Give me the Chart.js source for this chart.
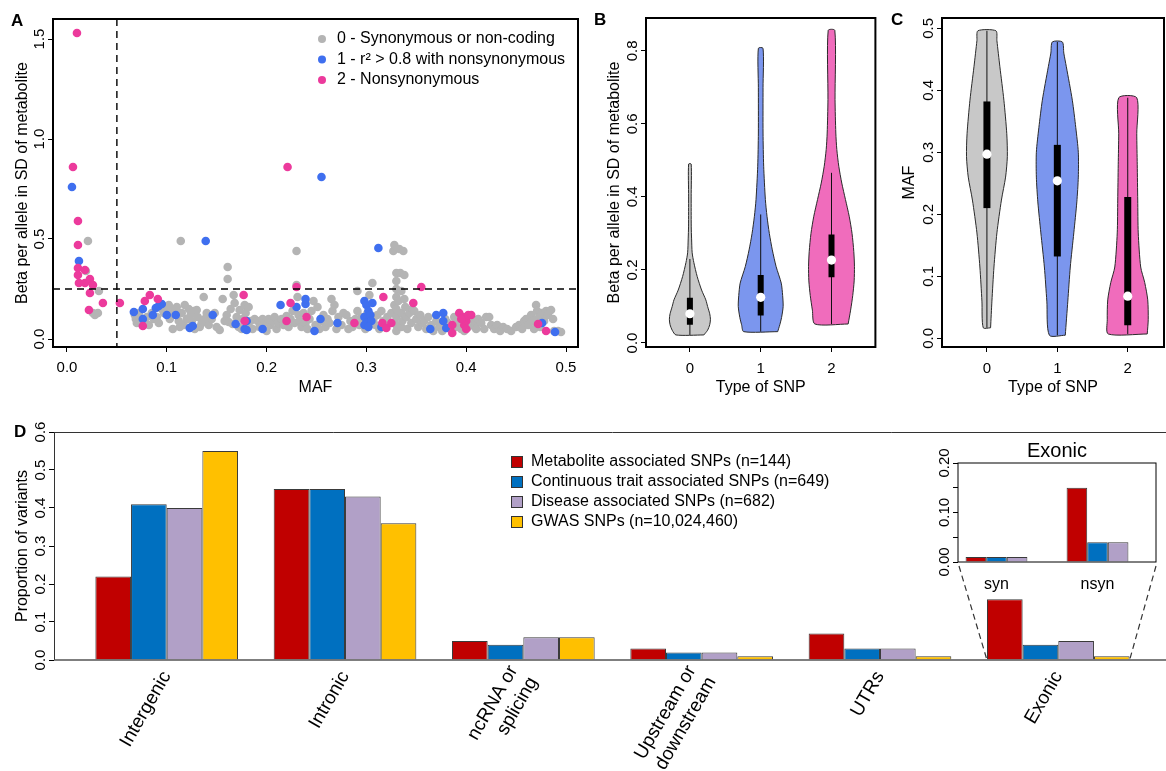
<!DOCTYPE html>
<html lang="en">
<head>
<meta charset="utf-8">
<title>Metabolite associated SNPs</title>
<script src="https://cdn.jsdelivr.net/npm/chart.js@4.4.1/dist/chart.umd.min.js"></script>
<style>
  html, body { margin: 0; padding: 0; background: #fff; }
  body { width: 1166px; height: 771px; overflow: hidden; position: relative; }
  canvas { position: absolute; }
</style>
</head>
<body>
<canvas id="chartA" width="590" height="400" style="left:0;top:0"></canvas>
<canvas id="chartB" width="290" height="400" style="left:590px;top:0"></canvas>
<canvas id="chartC" width="296" height="400" style="left:880px;top:0"></canvas>
<canvas id="chartD" width="1180" height="361" style="left:0;top:410px"></canvas>
<canvas id="chartE" width="266" height="250" style="left:900px;top:420px"></canvas>
<script>
// ---- Panel A: effect size vs MAF, [MAF, beta] per SNP ----
const synonymous = [
  [0.021,0.49],[0.019,0.34],[0.032,0.24],[0.026,0.13],[0.031,0.13],[0.028,0.12],
  [0.068,0.12],[0.069,0.1],[0.07,0.08],[0.072,0.13],[0.074,0.09],[0.078,0.075],[0.08,0.11],[0.082,0.07],
  [0.085,0.13],[0.087,0.1],[0.09,0.11],[0.092,0.08],[0.095,0.15],[0.097,0.13],[0.1,0.16],[0.102,0.17],
  [0.103,0.1],[0.105,0.13],[0.106,0.05],[0.108,0.15],[0.11,0.16],[0.112,0.09],[0.113,0.06],[0.114,0.49],
  [0.115,0.13],[0.117,0.07],[0.118,0.17],[0.12,0.1],[0.122,0.15],[0.124,0.12],[0.125,0.09],[0.127,0.14],
  [0.128,0.05],[0.13,0.145],[0.131,0.11],[0.133,0.06],[0.135,0.08],[0.137,0.21],[0.138,0.1],[0.14,0.13],
  [0.142,0.07],[0.145,0.1],[0.148,0.13],[0.15,0.06],[0.153,0.045],[0.156,0.2],[0.158,0.09],[0.16,0.12],
  [0.161,0.36],[0.161,0.3],[0.162,0.085],[0.164,0.15],[0.166,0.075],[0.167,0.22],[0.168,0.18],[0.17,0.11],
  [0.172,0.06],[0.173,0.145],[0.175,0.05],[0.176,0.1],[0.178,0.17],[0.179,0.13],[0.18,0.07],[0.182,0.16],
  [0.184,0.09],[0.186,0.05],[0.188,0.1],[0.191,0.09],[0.193,0.06],[0.196,0.1],[0.198,0.08],[0.2,0.04],
  [0.202,0.1],[0.204,0.07],[0.206,0.09],[0.208,0.11],[0.21,0.05],[0.212,0.08],[0.215,0.1],[0.217,0.07],
  [0.22,0.115],[0.222,0.06],[0.224,0.1],[0.226,0.14],[0.228,0.08],[0.23,0.44],[0.23,0.27],[0.231,0.21],
  [0.232,0.12],[0.233,0.09],[0.235,0.06],[0.237,0.13],[0.239,0.08],[0.241,0.05],[0.243,0.1],[0.245,0.14],
  [0.247,0.19],[0.249,0.07],[0.251,0.16],[0.253,0.05],[0.255,0.09],[0.257,0.12],[0.259,0.06],[0.261,0.1],
  [0.263,0.08],[0.265,0.2],[0.266,0.14],[0.268,0.17],[0.27,0.05],[0.272,0.11],[0.275,0.07],[0.277,0.13],
  [0.28,0.12],[0.282,0.05],[0.284,0.09],[0.286,0.06],[0.289,0.1],[0.291,0.24],[0.291,0.14],[0.293,0.07],
  [0.295,0.11],[0.297,0.09],[0.299,0.05],[0.301,0.13],[0.303,0.22],[0.306,0.28],[0.307,0.1],[0.309,0.07],
  [0.311,0.12],[0.313,0.05],[0.315,0.14],[0.317,0.09],[0.319,0.06],[0.321,0.11],[0.323,0.08],[0.325,0.13],
  [0.327,0.44],[0.328,0.47],[0.328,0.17],[0.33,0.33],[0.33,0.29],[0.33,0.25],[0.33,0.21],[0.33,0.15],
  [0.33,0.11],[0.33,0.07],[0.33,0.04],[0.332,0.19],[0.333,0.45],[0.334,0.33],[0.335,0.24],[0.335,0.13],
  [0.335,0.06],[0.336,0.09],[0.337,0.44],[0.338,0.32],[0.338,0.2],[0.339,0.16],[0.34,0.11],[0.341,0.05],
  [0.343,0.13],[0.345,0.08],[0.346,0.15],[0.348,0.14],[0.35,0.1],[0.352,0.06],[0.354,0.12],[0.356,0.08],
  [0.358,0.09],[0.36,0.05],[0.362,0.11],[0.365,0.07],[0.367,0.04],[0.37,0.09],[0.373,0.06],[0.376,0.04],
  [0.379,0.1],[0.382,0.08],[0.384,0.05],[0.388,0.11],[0.39,0.06],[0.392,0.09],[0.395,0.05],[0.398,0.04],
  [0.4,0.08],[0.402,0.06],[0.405,0.1],[0.408,0.07],[0.41,0.05],[0.412,0.1],[0.415,0.08],[0.418,0.05],
  [0.42,0.11],[0.423,0.11],[0.425,0.07],[0.428,0.05],[0.431,0.07],[0.434,0.04],[0.437,0.06],[0.441,0.05],
  [0.445,0.04],[0.45,0.06],[0.453,0.07],[0.456,0.05],[0.458,0.09],[0.46,0.1],[0.462,0.07],[0.465,0.12],
  [0.467,0.09],[0.468,0.05],[0.47,0.17],[0.471,0.14],[0.473,0.11],[0.474,0.06],[0.476,0.13],[0.478,0.09],
  [0.48,0.14],[0.482,0.12],[0.485,0.145],[0.487,0.1],[0.488,0.04],[0.492,0.04],[0.495,0.035]
];
const ldProxy = [
  [0.005,0.76],[0.012,0.39],[0.067,0.135],[0.076,0.15],[0.076,0.1],[0.086,0.12],[0.089,0.155],[0.092,0.165],
  [0.095,0.175],[0.1,0.12],[0.109,0.12],[0.123,0.055],[0.126,0.065],[0.139,0.49],[0.146,0.12],[0.169,0.075],
  [0.178,0.05],[0.18,0.09],[0.18,0.045],[0.196,0.05],[0.214,0.17],[0.23,0.16],[0.239,0.175],[0.239,0.2],
  [0.248,0.04],[0.254,0.1],[0.255,0.81],[0.271,0.08],[0.298,0.19],[0.3,0.17],[0.302,0.14],[0.298,0.11],
  [0.304,0.12],[0.3,0.08],[0.305,0.09],[0.298,0.07],[0.302,0.06],[0.306,0.18],[0.312,0.455],[0.315,0.06],
  [0.364,0.05],[0.37,0.12],[0.377,0.13],[0.377,0.09],[0.38,0.055],[0.476,0.08],[0.489,0.035]
];
const nonsynonymous = [
  [0.01,1.53],[0.006,0.86],[0.011,0.59],[0.011,0.47],[0.011,0.355],[0.018,0.345],[0.011,0.32],[0.012,0.28],
  [0.018,0.28],[0.023,0.3],[0.026,0.27],[0.023,0.23],[0.036,0.18],[0.022,0.145],[0.053,0.18],[0.078,0.19],
  [0.083,0.22],[0.091,0.2],[0.076,0.065],[0.177,0.22],[0.178,0.09],[0.221,0.86],[0.23,0.26],[0.224,0.18],
  [0.22,0.09],[0.24,0.11],[0.288,0.08],[0.317,0.21],[0.316,0.08],[0.32,0.055],[0.325,0.08],[0.347,0.18],
  [0.355,0.26],[0.386,0.07],[0.386,0.03],[0.393,0.13],[0.397,0.11],[0.4,0.09],[0.402,0.12],[0.405,0.12],
  [0.398,0.07],[0.4,0.05],[0.395,0.1],[0.472,0.075],[0.48,0.04]
];
const snpClassLabels = ['0 - Synonymous or non-coding', '1 - r\u00b2 > 0.8 with nonsynonymous', '2 - Nonsynonymous'];
const mafCutoff = 0.05;
const betaCutoff = 0.25;
const mafTicks = [0, 0.1, 0.2, 0.3, 0.4, 0.5];
const betaTicks = [0, 0.5, 1.0, 1.5];

// ---- Panels B and C: violins per SNP type, [value, half width] ----
const snpTypes = ['0', '1', '2'];
const betaViolin0 = [[0.022,0.197],[0.035,0.25],[0.05,0.28],[0.065,0.29],[0.08,0.28],[0.1,0.25],[0.118,0.225],[0.145,0.165],[0.182,0.103],[0.22,0.056],[0.247,0.032],[0.285,0.024],[0.32,0.019],[0.4,0.018],[0.49,0.018]];
const betaViolin1 = [[0.031,0.24],[0.05,0.27],[0.07,0.295],[0.1,0.317],[0.13,0.31],[0.164,0.29],[0.209,0.218],[0.255,0.164],[0.3,0.122],[0.347,0.089],[0.393,0.066],[0.484,0.042],[0.575,0.033],[0.7,0.033],[0.807,0.033]];
const betaViolin2 = [[0.052,0.235],[0.09,0.27],[0.13,0.3],[0.17,0.32],[0.21,0.324],[0.25,0.315],[0.3,0.29],[0.347,0.25],[0.393,0.197],[0.438,0.145],[0.484,0.103],[0.53,0.075],[0.575,0.061],[0.667,0.05],[0.856,0.047]];
const betaQ1 = [0.05, 0.075, 0.18];
const betaMedian = [0.08, 0.125, 0.227];
const betaQ3 = [0.124, 0.186, 0.297];
const betaLow = [0.022, 0.031, 0.052];
const betaHigh = [0.23, 0.352, 0.466];
const betaViolinTicks = [0, 0.2, 0.4, 0.6, 0.8];

const mafViolin0 = [[0.017,0.052],[0.06,0.071],[0.115,0.1],[0.17,0.142],[0.223,0.206],[0.26,0.265],[0.293,0.29],[0.33,0.282],[0.384,0.241],[0.438,0.184],[0.48,0.142],[0.496,0.128]];
const mafViolin1 = [[0.005,0.113],[0.06,0.149],[0.115,0.184],[0.17,0.234],[0.22,0.277],[0.26,0.298],[0.3,0.298],[0.34,0.262],[0.384,0.213],[0.438,0.128],[0.46,0.092],[0.478,0.071]];
const mafViolin2 = [[0.007,0.277],[0.03,0.291],[0.062,0.284],[0.09,0.241],[0.115,0.184],[0.17,0.149],[0.223,0.142],[0.28,0.135],[0.33,0.128],[0.388,0.128]];
const mafQ1 = [0.21, 0.132, 0.021];
const mafMedian = [0.297, 0.254, 0.068];
const mafQ3 = [0.382, 0.312, 0.228];
const mafLow = [0.017, 0.005, 0.007];
const mafHigh = [0.496, 0.478, 0.388];
const mafViolinTicks = [0, 0.1, 0.2, 0.3, 0.4, 0.5];

// ---- Panel D: proportion of variants by region ----
const regionLabels = ['Intergenic', 'Intronic', ['ncRNA or', 'splicing'], ['Upstream or', 'downstream'], 'UTRs', 'Exonic'];
const metaboliteSNPs = [0.22, 0.45, 0.05, 0.03, 0.07, 0.16];
const continuousSNPs = [0.41, 0.45, 0.04, 0.02, 0.03, 0.04];
const diseaseSNPs = [0.40, 0.43, 0.06, 0.02, 0.03, 0.05];
const gwasSNPs = [0.55, 0.36, 0.06, 0.01, 0.01, 0.01];
const seriesLabels = ['Metabolite associated SNPs (n=144)', 'Continuous trait associated SNPs (n=649)', 'Disease associated SNPs (n=682)', 'GWAS SNPs (n=10,024,460)'];
const proportionTicks = [0, 0.1, 0.2, 0.3, 0.4, 0.5, 0.6];

// inset: exonic split
const exonicLabels = ['syn', 'nsyn'];
const exonicMetabolite = [0.01, 0.15];
const exonicContinuous = [0.01, 0.04];
const exonicDisease = [0.01, 0.04];
const exonicTicks = [0, 0.05, 0.10, 0.15, 0.20];
const exonicTickLabels = [0, 0.10, 0.20];

const FONT = '"Liberation Sans", Arial, Helvetica, sans-serif';
const GRAY = '#b4b4b4', BLUE = '#3f6fef', PINK = '#ec3a9c';
const VIOLIN_COLORS = ['#c8c8c8', '#7b96ee', '#f06cbc'];
const BAR_COLORS = ['#c00000', '#0070c0', '#b1a0c7', '#ffc000'];

Chart.defaults.font.family = FONT;
Chart.defaults.font.size = 15;
Chart.defaults.color = '#000';
Chart.defaults.animation = false;
Chart.defaults.responsive = false;
Chart.defaults.plugins.legend.display = false;
Chart.defaults.plugins.tooltip.enabled = false;

const tickGrid = { drawOnChartArea: false, drawTicks: true, tickLength: 5, color: '#000', lineWidth: 1 };
const setTicks = values => scale => { scale.ticks = values.map(v => ({ value: v })); };

// R-like decorations: frame, rotated y tick labels, axis titles, panel letter
const rStyle = {
  id: 'rStyle',
  afterDraw(chart, args, o) {
    const { ctx, chartArea: a } = chart;
    const y = chart.scales.y;
    ctx.save();
    ctx.fillStyle = '#000';
    if (o.frame) {
      ctx.lineWidth = o.frame;
      ctx.strokeStyle = '#000';
      ctx.strokeRect(a.left, a.top, a.right - a.left, a.bottom - a.top);
    }
    if (o.yLabels) {
      ctx.font = `${o.tickSize || 15}px ${FONT}`;
      ctx.textAlign = 'center';
      ctx.textBaseline = 'bottom';
      for (const v of o.yLabels) {
        ctx.save();
        ctx.translate(a.left - 6, y.getPixelForValue(v));
        ctx.rotate(-Math.PI / 2);
        ctx.fillText(v.toFixed(o.yDigits || 1), 0, 0);
        ctx.restore();
      }
    }
    ctx.font = `16px ${FONT}`;
    ctx.textAlign = 'center';
    ctx.textBaseline = 'middle';
    if (o.yTitle) {
      ctx.save();
      ctx.translate(a.left - o.yTitleGap, (a.top + a.bottom) / 2);
      ctx.rotate(-Math.PI / 2);
      ctx.fillText(o.yTitle, 0, 0);
      ctx.restore();
    }
    if (o.xTitle) {
      ctx.fillText(o.xTitle, (a.left + a.right) / 2, a.bottom + 41);
    }
    if (o.letter) {
      ctx.font = `bold 17px ${FONT}`;
      ctx.textAlign = 'left';
      ctx.fillText(o.letter, o.letterX, o.letterY);
    }
    ctx.restore();
  }
};
Chart.register(rStyle);

// ---- A ----
const toXY = pairs => pairs.map(([x, y]) => ({ x, y }));

const panelAExtras = {
  id: 'panelAExtras',
  afterDatasetsDraw(chart) {
    const { ctx, chartArea: a, scales: { x, y } } = chart;
    ctx.save();
    ctx.strokeStyle = '#000';
    ctx.lineWidth = 1.4;
    ctx.setLineDash([7, 5]);
    ctx.beginPath();
    const px = x.getPixelForValue(mafCutoff);
    const py = y.getPixelForValue(betaCutoff);
    ctx.moveTo(px, a.top); ctx.lineTo(px, a.bottom);
    ctx.moveTo(a.left, py); ctx.lineTo(a.right, py);
    ctx.stroke();
    ctx.restore();
  },
  afterDraw(chart) {
    const { ctx } = chart;
    ctx.save();
    ctx.font = `16px ${FONT}`;
    ctx.textBaseline = 'middle';
    ctx.textAlign = 'left';
    chart.data.datasets.forEach((ds, i) => {
      const yy = 39 + i * 20.5;
      ctx.fillStyle = ds.backgroundColor;
      ctx.beginPath();
      ctx.arc(322, yy, 4, 0, Math.PI * 2);
      ctx.fill();
      ctx.fillStyle = '#000';
      ctx.fillText(ds.label, 337, yy);
    });
    ctx.restore();
  }
};

new Chart(document.getElementById('chartA'), {
  type: 'scatter',
  data: {
    datasets: [
      { label: snpClassLabels[0], data: toXY(synonymous), backgroundColor: GRAY, order: 3 },
      { label: snpClassLabels[1], data: toXY(ldProxy), backgroundColor: BLUE, order: 2 },
      { label: snpClassLabels[2], data: toXY(nonsynonymous), backgroundColor: PINK, order: 1 }
    ]
  },
  options: {
    layout: { padding: { top: 19, right: 12, left: 0, bottom: 0 } },
    elements: { point: { radius: 4.3, borderWidth: 0, hoverRadius: 4.3 } },
    scales: {
      x: {
        type: 'linear', min: -0.014, max: 0.512,
        afterBuildTicks: setTicks(mafTicks),
        afterFit: s => { s.height = 53; },
        ticks: { padding: 7, callback: v => v.toFixed(1) },
        grid: tickGrid, border: { display: false }
      },
      y: {
        min: -0.04, max: 1.6,
        afterBuildTicks: setTicks(betaTicks),
        afterFit: s => { s.width = 53; },
        ticks: { display: false },
        grid: tickGrid, border: { display: false }
      }
    },
    plugins: {
      rStyle: { frame: 2, yLabels: betaTicks, yTitle: 'Beta per allele in SD of metabolite', yTitleGap: 30, xTitle: 'MAF', letter: 'A', letterX: 11, letterY: 21 }
    }
  },
  plugins: [panelAExtras]
});

// ---- B and C: violins drawn as closed line shapes ----
function violinOutline(center, profile) {
  const right = profile.map(([v, w]) => ({ x: center + w, y: v }));
  const left = profile.slice().reverse().map(([v, w]) => ({ x: center - w, y: v }));
  return [...right, ...left, right[0]];
}

function violinDatasets(profiles, q1, med, q3, lo, hi, boxWidth) {
  const sets = [];
  profiles.forEach((p, i) => {
    const c = i + 1;
    sets.push({ data: violinOutline(c, p), backgroundColor: VIOLIN_COLORS[i], borderColor: '#2a2a2a', borderWidth: 1, fill: 'shape', tension: 0.25, pointRadius: 0, order: 4 });
    sets.push({ data: [{ x: c, y: lo[i] }, { x: c, y: hi[i] }], borderColor: '#111', borderWidth: 1, pointRadius: 0, fill: false, order: 3 });
    sets.push({ data: [{ x: c, y: q1[i] }, { x: c, y: q3[i] }], borderColor: '#000', borderWidth: boxWidth, borderCapStyle: 'butt', pointRadius: 0, fill: false, order: 2 });
    sets.push({ data: [{ x: c, y: med[i] }], showLine: false, pointRadius: 4.6, pointBackgroundColor: '#fff', pointBorderWidth: 0, order: 1 });
  });
  return sets;
}

function violinChart(id, datasets, xRange, yRange, yTicks, padRight, deco) {
  return new Chart(document.getElementById(id), {
    type: 'line',
    data: { datasets },
    options: {
      layout: { padding: { top: 18, right: padRight, left: 0, bottom: 0 } },
      scales: {
        x: {
          type: 'linear', min: xRange[0], max: xRange[1],
          afterBuildTicks: setTicks([1, 2, 3]),
          afterFit: s => { s.height = 53; },
          ticks: { padding: 8, callback: v => snpTypes[v - 1] },
          grid: tickGrid, border: { display: false }
        },
        y: {
          min: yRange[0], max: yRange[1],
          afterBuildTicks: setTicks(yTicks),
          afterFit: s => { s.width = deco.yWidth; },
          ticks: { display: false },
          grid: tickGrid, border: { display: false }
        }
      },
      plugins: { rStyle: Object.assign({ frame: 2, yLabels: yTicks, xTitle: 'Type of SNP' }, deco) }
    }
  });
}

violinChart('chartB',
  violinDatasets([betaViolin0, betaViolin1, betaViolin2], betaQ1, betaMedian, betaQ3, betaLow, betaHigh, 6),
  [0.38, 3.62], [-0.011, 0.89], betaViolinTicks, 4,
  { yWidth: 56, yTitle: 'Beta per allele in SD of metabolite', yTitleGap: 31, letter: 'B', letterX: 4, letterY: 20 });

violinChart('chartC',
  violinDatasets([mafViolin0, mafViolin1, mafViolin2], mafQ1, mafMedian, mafQ3, mafLow, mafHigh, 7),
  [0.362, 3.515], [-0.014, 0.5166], mafViolinTicks, 12,
  { yWidth: 62, yTitle: 'MAF', yTitleGap: 32, letter: 'C', letterX: 11, letterY: 20 });

// ---- D: grouped bars ----
const panelDExtras = {
  id: 'panelDExtras',
  afterDraw(chart) {
    const { ctx, chartArea: a } = chart;
    const xs = chart.scales.x;
    ctx.save();
    ctx.strokeStyle = '#333';
    ctx.lineWidth = 1;
    ctx.beginPath();
    ctx.moveTo(a.left, a.top + 0.5); ctx.lineTo(a.right, a.top + 0.5);
    ctx.moveTo(a.left + 0.5, a.top); ctx.lineTo(a.left + 0.5, a.bottom);
    ctx.stroke();
    ctx.strokeStyle = '#555';
    ctx.lineWidth = 1.6;
    ctx.beginPath();
    ctx.moveTo(a.left, a.bottom); ctx.lineTo(a.right, a.bottom);
    ctx.stroke();
    // rotated category labels, multi-line text centred on the anchor
    ctx.fillStyle = '#000';
    ctx.font = `19px ${FONT}`;
    ctx.textAlign = 'right';
    ctx.textBaseline = 'middle';
    regionLabels.forEach((lab, i) => {
      const lines = Array.isArray(lab) ? lab : [lab];
      ctx.save();
      ctx.translate(xs.getPixelForValue(i), a.bottom + 13);
      ctx.rotate(-Math.PI / 3);
      lines.forEach((t, j) => ctx.fillText(t, 0, (j - (lines.length - 1) / 2) * 23));
      ctx.restore();
    });
    // legend
    ctx.font = `16px ${FONT}`;
    ctx.textAlign = 'left';
    chart.data.datasets.forEach((ds, i) => {
      const yy = 52 + i * 20;
      ctx.fillStyle = ds.backgroundColor;
      ctx.fillRect(511, yy - 6, 12, 12);
      ctx.strokeStyle = '#333';
      ctx.lineWidth = 1;
      ctx.strokeRect(511.5, yy - 5.5, 11, 11);
      ctx.fillStyle = '#000';
      ctx.fillText(ds.label, 531, yy);
    });
    ctx.restore();
  }
};

const regionSeries = [metaboliteSNPs, continuousSNPs, diseaseSNPs, gwasSNPs];
const chartD = new Chart(document.getElementById('chartD'), {
  type: 'bar',
  data: {
    datasets: regionSeries.map((vals, k) => ({
      label: seriesLabels[k],
      data: vals.map((v, i) => ({ x: i, y: v })),
      backgroundColor: BAR_COLORS[k], borderColor: '#3a3a3a', borderWidth: 1,
      categoryPercentage: 0.8, barPercentage: 1
    }))
  },
  options: {
    layout: { padding: { top: 22, right: 9, left: 0, bottom: 0 } },
    scales: {
      x: {
        type: 'linear', offset: false, min: -0.632, max: 5.632,
        afterBuildTicks: setTicks(regionLabels.map((_, i) => i)),
        afterFit: s => { s.height = 111; },
        grid: { display: false, drawTicks: false, offset: false },
        border: { display: false },
        ticks: { display: false }
      },
      y: {
        min: 0, max: 0.6,
        afterBuildTicks: setTicks(proportionTicks),
        afterFit: s => { s.width = 54; },
        ticks: { display: false },
        grid: tickGrid, border: { display: false }
      }
    },
    plugins: {
      rStyle: { yLabels: proportionTicks, yTitle: 'Proportion of variants', yTitleGap: 31, letter: 'D', letterX: 14, letterY: 22 }
    }
  },
  plugins: [panelDExtras]
});

// ---- inset: exonic syn / nsyn ----
const insetExtras = {
  id: 'insetExtras',
  afterDraw(chart) {
    const { ctx, chartArea: a } = chart;
    ctx.save();
    ctx.font = `20px ${FONT}`;
    ctx.fillStyle = '#000';
    ctx.textAlign = 'center';
    ctx.textBaseline = 'middle';
    ctx.fillText(regionLabels[5], (a.left + a.right) / 2, a.top - 12);
    // dashed connectors to the exonic group of panel D
    const first = chartD.getDatasetMeta(0).data[5];
    const last = chartD.getDatasetMeta(3).data[5];
    const base = chartD.scales.y.getPixelForValue(0);
    const dx = 900, dy = 10;
    ctx.strokeStyle = '#333';
    ctx.lineWidth = 1.2;
    ctx.setLineDash([6, 4]);
    ctx.beginPath();
    ctx.moveTo(a.left + 1, a.bottom + 4);
    ctx.lineTo(first.x - first.width / 2 - dx, base - dy);
    ctx.moveTo(a.right, a.bottom + 4);
    ctx.lineTo(last.x + last.width / 2 - dx, base - dy);
    ctx.stroke();
    ctx.restore();
  }
};

const exonicSeries = [exonicMetabolite, exonicContinuous, exonicDisease];
new Chart(document.getElementById('chartE'), {
  type: 'bar',
  data: {
    datasets: exonicSeries.map((vals, k) => ({
      label: seriesLabels[k],
      data: vals.map((v, i) => ({ x: i, y: v })),
      backgroundColor: BAR_COLORS[k], borderColor: '#3a3a3a', borderWidth: 1,
      categoryPercentage: 0.612, barPercentage: 1
    }))
  },
  options: {
    layout: { padding: { top: 43, right: 10, left: 0, bottom: 0 } },
    scales: {
      x: {
        type: 'linear', offset: false, min: -0.381, max: 1.579,
        afterBuildTicks: setTicks([0, 1]),
        afterFit: s => { s.height = 108; },
        grid: { display: false, drawTicks: false, offset: false },
        border: { display: false },
        ticks: { autoSkip: false, maxRotation: 0, padding: 13, font: { size: 16 }, callback: v => exonicLabels[v] }
      },
      y: {
        min: 0, max: 0.2,
        afterBuildTicks: setTicks(exonicTicks),
        afterFit: s => { s.width = 58; },
        ticks: { display: false },
        grid: tickGrid, border: { display: false }
      }
    },
    plugins: {
      rStyle: { frame: 1, yLabels: exonicTickLabels, yDigits: 2 }
    }
  },
  plugins: [insetExtras]
});
</script>
</body>
</html>
